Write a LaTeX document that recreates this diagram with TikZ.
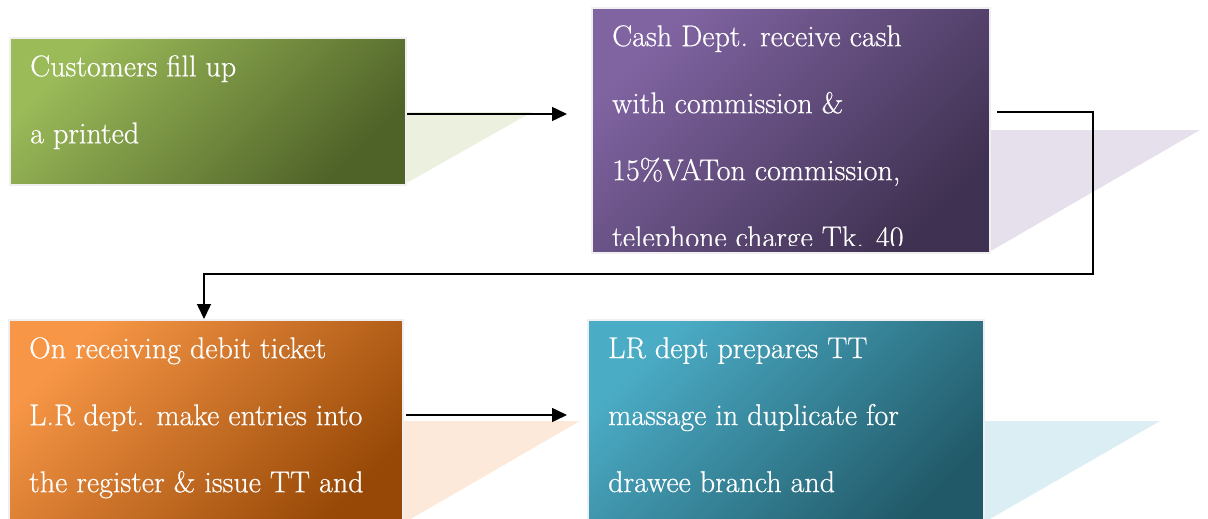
\documentclass[tikz,border=0pt]{standalone}
\usepackage{fontspec}
\usepackage{tikz}
\usetikzlibrary{arrows.meta}

\newfontfamily\stepfont{Latin Modern Roman}[FakeBold=0.6]

\definecolor{greenlight}{HTML}{9BBB59}
\definecolor{greendark}{HTML}{4F6228}
\definecolor{greenpale}{HTML}{EBF1DE}
\definecolor{purplelight}{HTML}{8064A2}
\definecolor{purpledark}{HTML}{3F3151}
\definecolor{purplepale}{HTML}{E5E0EC}
\definecolor{orangelight}{HTML}{F79646}
\definecolor{orangedark}{HTML}{974806}
\definecolor{orangepale}{HTML}{FDE9D9}
\definecolor{tealight}{HTML}{4BACC6}
\definecolor{tealdark}{HTML}{215968}
\definecolor{tealpale}{HTML}{DAEEF3}
\definecolor{boxrim}{HTML}{EFEFF1}

\tikzset{
    stepbox/.style 2 args={rectangle, draw=boxrim, line width=2pt, inner sep=0pt,
        anchor=north west, top color=#1, bottom color=#2, shading angle=45},
    steptext/.style={text=white, align=left, anchor=north west, inner sep=0pt,
        font=\stepfont\fontsize{30}{67}\selectfont},
    flow/.style={-{Triangle[length=15pt,width=14pt]}, line width=1.5pt},
}

\begin{document}
\begin{tikzpicture}[x=1pt, y=-1pt]
    \clip (0,0) rectangle (1208,519);

    % Shadow wedges behind the boxes
    \fill[greenpale] (405,184) -- (405,112) -- (532,112) -- cycle;
    \fill[purplepale] (989,252) -- (989,130) -- (1200,130) -- cycle;
    \fill[orangepale] (402,524) -- (402,421) -- (580,421) -- cycle;
    \fill[tealpale] (983,523) -- (983,421) -- (1160,421) -- cycle;

    % Boxes
    \node[stepbox={greenlight}{greendark}, minimum width=396pt, minimum height=147pt] (fill) at (9,37) {};
    \node[stepbox={purplelight}{purpledark}, minimum width=398pt, minimum height=245pt] (cash) at (591,7) {};
    \node[stepbox={orangelight}{orangedark}, minimum width=394pt, minimum height=215pt] (entry) at (8,319) {};
    \node[stepbox={tealight}{tealdark}, minimum width=396pt, minimum height=215pt] (message) at (587,319) {};

    % Box texts
    \node[steptext] (filltxt) at ([xshift=21pt, yshift=-18pt]fill.north west) {Customers fill up\\a printed};
    \begin{scope}
        \clip ([xshift=2pt, yshift=-2pt]cash.north west) rectangle ([xshift=-2pt, yshift=9pt]cash.south east);
        \node[steptext] (cashtxt) at ([xshift=21pt, yshift=-18pt]cash.north west)
            {Cash Dept. receive cash\\with commission \&\\15\%VATon commission,\\telephone charge Tk. 40};
    \end{scope}
    \node[steptext] (entrytxt) at ([xshift=21pt, yshift=-18pt]entry.north west)
        {On receiving debit ticket\\L.R dept. make entries into\\the register \& issue TT and};
    \node[steptext] (messagetxt) at ([xshift=21pt, yshift=-18pt]message.north west)
        {LR dept prepares TT\\massage in duplicate for\\drawee branch and};

    % Connectors
    \coordinate (cashin) at (567,114);
    \coordinate (cashout) at (997,112);
    \coordinate (turn) at (1093,274);
    \coordinate (messagein) at (567,415);
    \draw[flow] (fill.east |- cashin) -- (cashin);
    \draw[flow] (cashout) -| (turn) -| ([xshift=-2pt]entry.north);
    \draw[flow] ([xshift=2pt]entry.east |- messagein) -- (messagein);
\end{tikzpicture}
\end{document}
